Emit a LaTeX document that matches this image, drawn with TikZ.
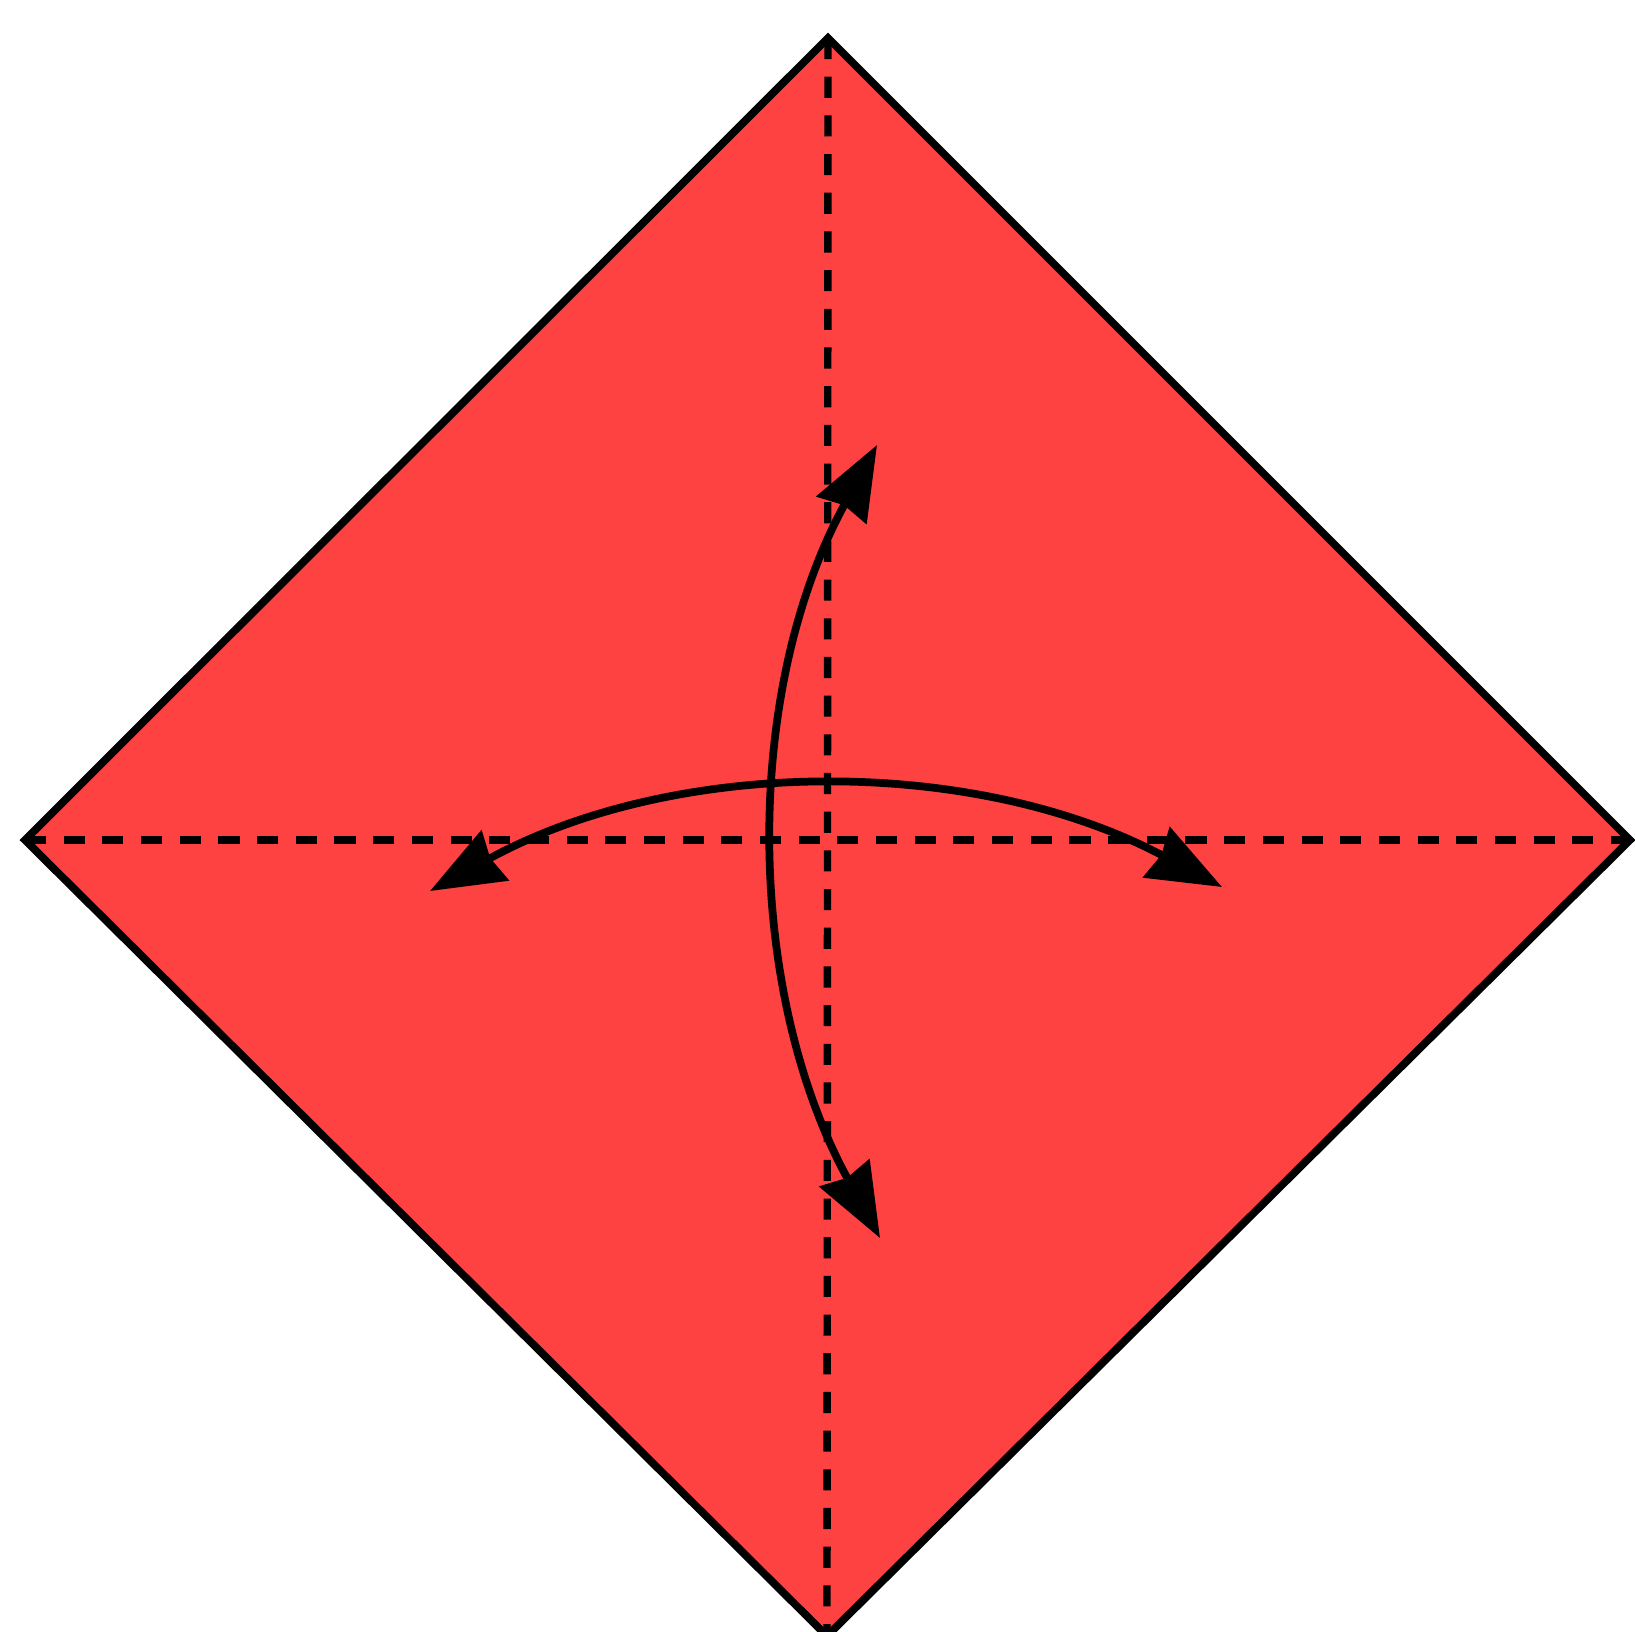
\documentclass[tikz,border=0pt]{standalone}
\usepackage{tikz}
\usetikzlibrary{arrows.meta}
\definecolor{paperred}{RGB}{254,66,66}

\begin{document}
\begin{tikzpicture}[x=0.01cm, y=-0.01cm,
    crease/.style={dash pattern=on 6pt off 5pt, line width=2.1pt},
    edge/.style={line width=2.2pt, line join=miter},
    fold/.style={{Stealth[length=21pt,width=16pt,inset=1.5pt]}-{Stealth[length=21pt,width=16pt,inset=1.5pt]}, line width=2.2pt}]
    \useasboundingbox (0,0) rectangle (1635,1632);

    % Corners of the square
    \coordinate (top) at (828,38);
    \coordinate (right) at (1630,840);
    \coordinate (bottom) at (827,1636);
    \coordinate (left) at (25,840);

    % Paper
    \fill[paperred] (top) -- (right) -- (bottom) -- (left) -- cycle;

    % Creases
    \draw[crease] (top) -- (bottom);
    \draw[crease] (left) -- (right);
    \draw[edge] (top) -- (right) -- (bottom) -- (left) -- cycle;

    % Fold and unfold arrows
    \coordinate (hleft) at (430,891);
    \coordinate (hright) at (1222,887);
    \coordinate (vtop) at (877,445);
    \coordinate (vbottom) at (880,1238);
    \draw[fold] (hleft) .. controls (677,756) and (975,756) .. (hright);
    \draw[fold] (vtop) .. controls (742,692) and (745,991) .. (vbottom);

\end{tikzpicture}
\end{document}
